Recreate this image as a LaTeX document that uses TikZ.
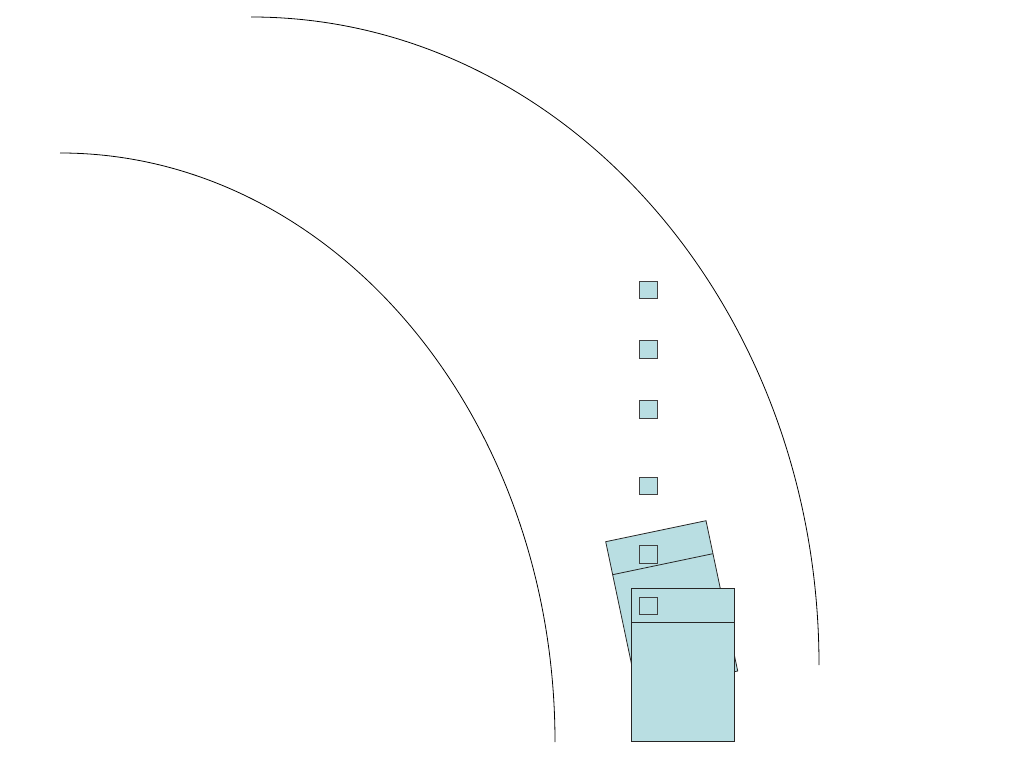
\documentclass[tikz,border=0pt]{standalone}
\begin{document}
\begin{tikzpicture}[x=1pt,y=1pt,
  track/.style={draw=black,line width=0.8pt},
  card/.style={draw=black!85,fill=cardblue,line width=0.8pt},
  slot/.style={draw=black!75,fill=cardblue,line width=1pt,minimum size=17.5pt,inner sep=0pt,outer sep=0pt}]
\definecolor{cardblue}{RGB}{185,222,226}
\useasboundingbox (0,0) rectangle (1024,768);
% arcs
\draw[track] (251,751) arc[start angle=90,end angle=0,x radius=568pt,y radius=648pt];
\draw[track] (60,615) arc[start angle=90,end angle=0,x radius=495pt,y radius=589pt];
% free squares
\node[slot] (s1) at (648.5,478) {};
\node[slot] (s2) at (648.5,418.3) {};
\node[slot] (s3) at (648.5,358.7) {};
\node[slot] (s4) at (648.5,281.8) {};
% rotated card
\draw[card] (605.7,226.3) -- (706,247.3) -- (737.7,97) -- (637.4,76) -- cycle;
\draw[card] (612.6,193.3) -- (712.9,214.3);
\node[slot] (s5) at (648.5,213.5) {};
% upright card
\draw[card] (631,26.3) rectangle (734,179.7);
\draw[card] (631,145.3) -- (734,145.3);
\node[slot] (s6) at (648.5,162.2) {};
\end{tikzpicture}
\end{document}
